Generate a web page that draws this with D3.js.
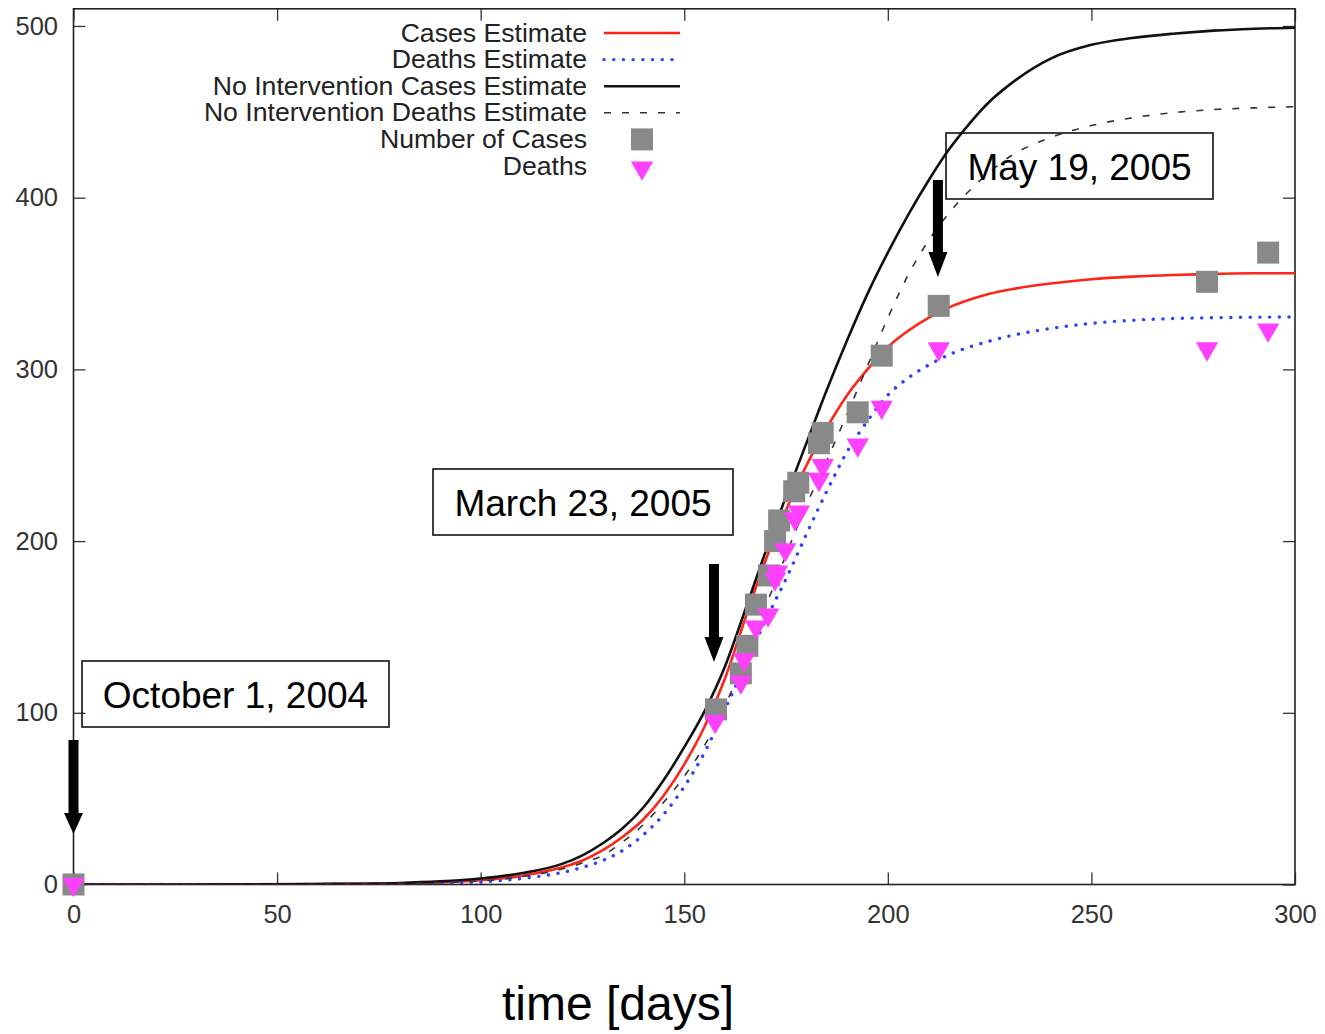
<!DOCTYPE html>
<html><head><meta charset="utf-8">
<script src="https://cdn.jsdelivr.net/npm/d3@7"></script>
<style>
body{margin:0;background:#fff}
svg{display:block}
text{font-family:"Liberation Sans",Arial,Helvetica,sans-serif}
</style>
</head><body>
<svg id="chart" width="1325" height="1034"></svg>
<script>
// ---------------- data ----------------
const days = [0,20,40,60,80,90,100,110,120,125,130,135,140,145,150,155,160,165,170,175,180,185,190,195,200,205,210,215,220,225,230,240,250,260,270,280,290,300];
const casesEstimate = [0,0,0.05,0.2,0.6,1.2,2.5,5,10,14,20,28,38,52,70,92,120,155,189,218,244,266,285,300,313,322.5,330,336,340.5,344,346.5,350,352.5,354,355,355.6,356,356];
const deathsEstimate = [0,0,0,0.1,0.4,0.8,1.5,3.5,7,10,14,20,29,41,57,77,102,128,154,178,204,229,252,270,285,295,302.5,308.5,313,316.5,319.5,323.8,326.8,328.6,329.6,330.1,330.4,330.5];
const noIntCasesEstimate = [0,0,0.1,0.3,0.9,1.8,3.5,6.5,12,17,24,33,45,61,80,101,127,160,194,226,257,288,317,344,368,390,410,428,443,456,466,481,489,493,495.5,497.3,498.4,499];
const noIntDeathsEstimate = [0,0,0,0.2,0.6,1.2,2,4.5,9,12.5,17,25,35,48,63,81,104,132,162,192,221,247,274,302,330,355,375,391,404,415,424,435,442,446.5,449.5,451.3,452.3,453];

const caseDays = [0,157.8,163.9,165.5,167.6,170.8,172.3,173.3,177,178,183.1,184,192.6,198.5,212.5,278.4,293.4];
const caseCounts = [0,102,123,139,163,180,200,212,229,234,257,263,275,308,337,351,368];
const deathDays = [0,157.6,163.9,164.7,167.6,170.6,172.3,172.8,174.8,177.2,178.2,183.1,184,192.6,198.5,212.5,278.4,293.4];
const deathCounts = [0,95,118,131,150,157,178,182,195,213,217,236,244,256,278,312,312,323];

const xTicks = [0,50,100,150,200,250,300];
const yTicks = [0,100,200,300,400,500];
const legendLabels = ["Cases Estimate","Deaths Estimate","No Intervention Cases Estimate","No Intervention Deaths Estimate","Number of Cases","Deaths"];
const annotationLabels = ["October 1, 2004","March 23, 2005","May 19, 2005"];
const annotationDays = [0,157.3,212.3];
const xTitle = "time [days]";

// ---------------- layout ----------------
const svg = d3.select("#chart");
svg.append("rect").attr("width",1325).attr("height",1034).attr("fill","#fff");
const L = 73.5, R = 1295, T = 8.8, B = 884.5;
const x = d3.scaleLinear().domain([0,300]).range([L,R]);
const y = d3.scaleLinear().domain([0,510]).range([B,T]);

// axes
const tickCol = "#333";
const gL = svg.append("g").attr("transform",`translate(${L},0)`)
  .call(d3.axisLeft(y).tickValues(yTicks).tickSize(-12).tickPadding(15.5).tickSizeOuter(0));
const gB = svg.append("g").attr("transform",`translate(0,${B})`)
  .call(d3.axisBottom(x).tickValues(xTicks).tickSize(-12).tickPadding(20).tickSizeOuter(0));
const gT = svg.append("g").attr("transform",`translate(0,${T})`)
  .call(d3.axisTop(x).tickValues(xTicks).tickSize(-12).tickFormat("").tickSizeOuter(0));
const gR = svg.append("g").attr("transform",`translate(${R},0)`)
  .call(d3.axisRight(y).tickValues(yTicks).tickSize(-12).tickFormat("").tickSizeOuter(0));
[gL,gB,gT,gR].forEach(g=>{
  g.select(".domain").remove();
  g.selectAll(".tick line").attr("stroke",tickCol).attr("stroke-width",1.3);
  g.selectAll(".tick text").attr("fill","#333").attr("font-size",25.5)
   .attr("font-family",'"Liberation Sans",Arial,sans-serif');
});

svg.append("rect").attr("x",L).attr("y",T).attr("width",R-L).attr("height",B-T)
  .attr("fill","none").attr("stroke","#222").attr("stroke-width",1.6);

// curves
const styles = [
  {vals:casesEstimate, stroke:"#ff2418", w:2.6, dash:null, cap:"butt"},
  {vals:deathsEstimate, stroke:"#2f3fff", w:3.4, dash:"0.1 9.6", cap:"round"},
  {vals:noIntCasesEstimate, stroke:"#111", w:2.6, dash:null, cap:"butt"},
  {vals:noIntDeathsEstimate, stroke:"#333", w:1.6, dash:"7 11", cap:"butt"}
];
const line = d3.line().x(d=>x(d[0])).y(d=>y(d[1])).curve(d3.curveMonotoneX);
svg.append("clipPath").attr("id","clp").append("rect")
  .attr("x",L).attr("y",T).attr("width",R-L).attr("height",B-T);
const gC = svg.append("g").attr("clip-path","url(#clp)");
styles.forEach(s=>{
  gC.append("path").datum(days.map((d,i)=>[d,s.vals[i]]))
    .attr("d",line).attr("fill","none").attr("stroke",s.stroke)
    .attr("stroke-width",s.w).attr("stroke-linecap",s.cap)
    .attr("stroke-dasharray",s.dash);
});

// markers
const sq = d3.symbol().type(d3.symbolSquare).size(22*22);
const tri = d3.symbol().type(d3.symbolTriangle).size(215);
svg.append("g").selectAll("path").data(caseDays.map((d,i)=>[d,caseCounts[i]])).join("path")
  .attr("d",sq).attr("transform",d=>`translate(${x(d[0])},${y(d[1])})`).attr("fill","#898989");
svg.append("g").selectAll("path").data(deathDays.map((d,i)=>[d,deathCounts[i]])).join("path")
  .attr("d",tri).attr("transform",d=>`translate(${x(d[0])},${y(d[1])}) rotate(180)`).attr("fill","#ff40ff");

// legend
const lg = svg.append("g");
const rowY = i => 41.5 + i*26.6;
legendLabels.forEach((t,i)=>{
  lg.append("text").attr("transform",`translate(587,${rowY(i)}) scale(1.065,1)`)
    .attr("text-anchor","end").attr("font-size",25).attr("fill","#222").text(t);
  const cy = rowY(i) - 8.5;
  if (i<4) {
    const s = styles[i];
    lg.append("line").attr("x1",604).attr("x2",680).attr("y1",cy).attr("y2",cy)
      .attr("stroke",s.stroke).attr("stroke-width",s.w).attr("stroke-linecap",s.cap)
      .attr("stroke-dasharray",s.dash);
  } else if (i===4) {
    lg.append("path").attr("d",sq).attr("transform",`translate(642,${cy})`).attr("fill","#898989");
  } else {
    lg.append("path").attr("d",tri).attr("transform",`translate(642,${cy+2}) rotate(180)`).attr("fill","#ff40ff");
  }
});

// annotations (boxes + arrows)
const boxes = [
  {x0:82, y0:661, x1:389, y1:727},
  {x0:433, y0:469, x1:733, y1:535},
  {x0:946, y0:133, x1:1213, y1:199}
];
const arrows = [
  {top:740, base:813, tip:834},
  {top:564, base:637, tip:662},
  {top:180, base:252, tip:277}
];
const ga = svg.append("g");
annotationLabels.forEach((t,i)=>{
  const b = boxes[i];
  ga.append("rect").attr("x",b.x0).attr("y",b.y0).attr("width",b.x1-b.x0).attr("height",b.y1-b.y0)
    .attr("fill","none").attr("stroke","#111").attr("stroke-width",1.6);
  ga.append("text").attr("x",(b.x0+b.x1)/2).attr("y",b.y1-19).attr("text-anchor","middle")
    .attr("font-size",37).attr("fill","#000").text(t);
  const a = arrows[i], cx = x(annotationDays[i]);
  ga.append("path").attr("fill","#000")
    .attr("d",`M${cx-5},${a.top}L${cx+5},${a.top}L${cx+5},${a.base}L${cx+9.5},${a.base}L${cx},${a.tip}L${cx-9.5},${a.base}L${cx-5},${a.base}Z`);
});

// x title
svg.append("text").attr("x",618).attr("y",1020).attr("text-anchor","middle")
  .attr("font-size",48).attr("fill","#000").text(xTitle);
</script>
</body></html>
